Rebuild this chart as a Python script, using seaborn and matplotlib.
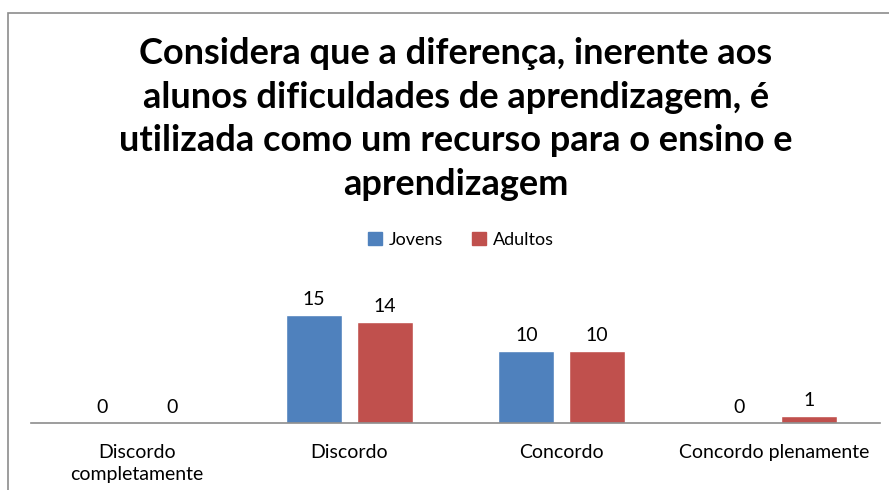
import matplotlib
matplotlib.use("Agg")
import matplotlib.pyplot as plt
import matplotlib.patches as mpatches
import pandas as pd
import seaborn as sns

categories = ["Discordo\ncompletamente", "Discordo", "Concordo", "Concordo plenamente"]
jovens = [0, 15, 10, 0]
adultos = [0, 14, 10, 1]
series_names = ["Jovens", "Adultos"]
title = ("Considera que a diferença, inerente aos\n"
         "alunos dificuldades de aprendizagem, é\n"
         "utilizada como um recurso para o ensino e\n"
         "aprendizagem")

colors = ["#4F81BD", "#C0504D"]

df = pd.DataFrame({
    "categoria": categories * 2,
    "grupo": [series_names[0]] * len(categories) + [series_names[1]] * len(categories),
    "valor": jovens + adultos,
})

sns.set_theme(style="white")
plt.rcParams["font.family"] = ["Lato", "DejaVu Sans"]
plt.rcParams["text.color"] = "#000000"

fig = plt.figure(figsize=(8.89, 4.90), dpi=100)
ax = fig.add_axes([31 / 889, 1 - 423 / 490, 849 / 889, 133.2 / 490])

sns.barplot(data=df, x="categoria", y="valor", hue="grupo", palette=colors,
            width=0.665, gap=0.21, ax=ax, legend=False, saturation=1)

for cont in ax.containers:
    ax.bar_label(cont, padding=5, fontsize=14, color="#000000")

ax.set_xlim(-0.5, 3.5)
ax.set_ylim(0, 18.5)
ax.set_xlabel("")
ax.set_ylabel("")
ax.set_yticks([])
ax.tick_params(axis="x", length=0, pad=15, labelsize=14, colors="#000000")
for lbl in ax.get_xticklabels():
    lbl.set_linespacing(1.4)
for s in ["top", "left", "right"]:
    ax.spines[s].set_visible(False)
ax.spines["bottom"].set_color("#8c8c8c")
ax.spines["bottom"].set_linewidth(1.2)

fig.text(456 / 889, 1 - 119 / 490, title, ha="center", va="center",
         fontsize=26, fontweight="bold", linespacing=1.4, color="#000000")

handles = [mpatches.Patch(color=c, label=n) for c, n in zip(colors, series_names)]
fig.legend(handles=handles, loc="center", bbox_to_anchor=(461 / 889, 1 - 240 / 490),
           ncol=2, frameon=False, fontsize=13, handlelength=0.75, handleheight=0.75,
           handletextpad=0.4, columnspacing=1.6)

# outer chart border (only top and left edges fall inside the image)
fig.add_artist(mpatches.Rectangle((8 / 889, -0.2), 1.5, 1 - 13 / 490 + 0.2,
                                  transform=fig.transFigure, fill=False,
                                  edgecolor="#8c8c8c", linewidth=1.2))

fig.savefig("out.png", dpi=100)
